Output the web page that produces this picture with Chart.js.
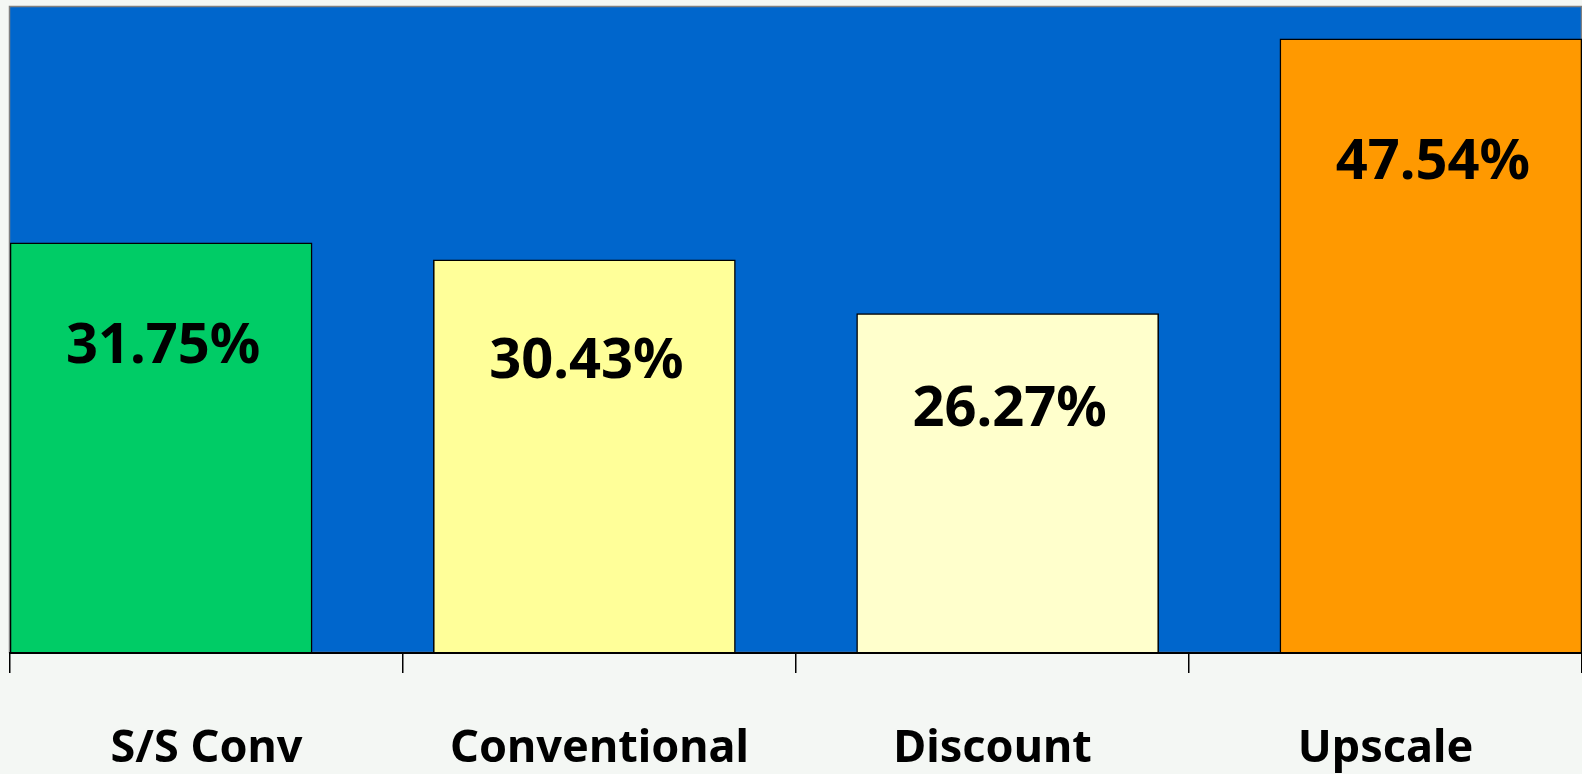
<!DOCTYPE html>
<html>
<head>
<meta charset="utf-8">
<script src="https://cdn.jsdelivr.net/npm/chart.js@4.4.1/dist/chart.umd.min.js"></script>
<style>
  html, body { margin: 0; padding: 0; background: #f4f7f4; overflow: hidden; }
  #wrap { width: 1582px; height: 774px; position: relative; }
</style>
</head>
<body>
<div id="wrap"><canvas id="c"></canvas></div>
<script>
/* 店舗タイプ別の比率: 青い描画領域+枠付き棒+棒内ラベル */

const CATEGORIES = ["S/S Conv", "Conventional", "Discount", "Upscale"];
const VALUES = [31.75, 30.43, 26.27, 47.54];
const BAR_COLORS = ["#00cc66", "#ffff99", "#ffffcc", "#ff9900"];
const Y_MAX = 50;

const FONT = "'Noto Sans', 'DejaVu Sans', sans-serif";

// 描画領域の背景(青)と灰色の枠
const plotBgPlugin = {
  id: "plotBg",
  beforeDatasetsDraw(chart) {
    const { ctx, chartArea: a } = chart;
    ctx.save();
    ctx.fillStyle = "#0066cc";
    ctx.fillRect(a.left, a.top, a.right - a.left, a.bottom - a.top);
    ctx.strokeStyle = "#808080";
    ctx.lineWidth = 1.5;
    ctx.strokeRect(a.left - 0.5, a.top - 0.5, a.right - a.left, a.bottom - a.top);
    ctx.restore();
  },
};

// 棒の中の値ラベル(棒の上端から少し下)
const valueLabelPlugin = {
  id: "valueLabels",
  afterDatasetsDraw(chart) {
    const ctx = chart.ctx;
    const meta = chart.getDatasetMeta(0);
    ctx.save();
    ctx.font = `bold 56px ${FONT}`;
    ctx.fillStyle = "#000";
    ctx.textAlign = "center";
    ctx.textBaseline = "middle";
    meta.data.forEach((bar, i) => {
      const h = bar.base - bar.y;
      ctx.fillText(`${VALUES[i].toFixed(2)}%`, bar.x + 2, bar.y + 63 + 0.1 * h);
    });
    ctx.restore();
  },
};

new Chart(document.getElementById("c"), {
  type: "bar",
  data: {
    labels: CATEGORIES,
    datasets: [
      {
        data: VALUES.map((v, i) => ({ x: i, y: v })),
        xAxisID: "xb",
        backgroundColor: BAR_COLORS,
        borderColor: "#000",
        borderWidth: 1.5,
        barThickness: 302,
      },
    ],
  },
  options: {
    responsive: true,
    maintainAspectRatio: false,
    animation: false,
    // 下の余白は負: 目盛ラベルの位置を保ったまま描画領域を下げる
    layout: { padding: { left: 10, right: 0, top: 7, bottom: -51 } },
    plugins: { legend: { display: false }, tooltip: { enabled: false } },
    scales: {
      x: {
        type: "category",
        labels: CATEGORIES,
        offset: true,
        grid: { offset: true, drawOnChartArea: false, tickLength: 20, color: "#000", lineWidth: 1.5 },
        border: { display: true, color: "#000", width: 2, z: 1 },
        ticks: {
          color: "#000",
          font: { family: FONT, size: 45, weight: "bold" },
          padding: 49,
          autoSkip: false,
          maxRotation: 0,
        },
      },
      // 棒の位置用の非表示軸(棒は描画領域の両端に接する)
      xb: {
        type: "linear",
        display: false,
        offset: false,
        bounds: "data",
        min: -0.357,
        max: 3.357,
        grid: { offset: false },
        ticks: { stepSize: 1, includeBounds: false },
      },
      y: {
        display: false,
        min: 0,
        max: Y_MAX,
      },
    },
  },
  plugins: [plotBgPlugin, valueLabelPlugin],
});
</script>
</body>
</html>
